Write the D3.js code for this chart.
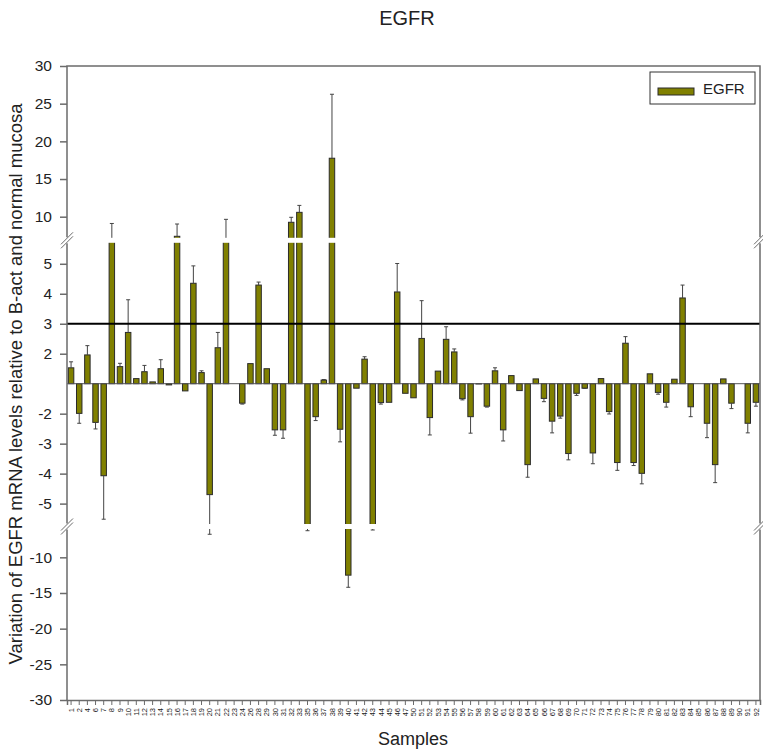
<!DOCTYPE html>
<html>
<head>
<meta charset="utf-8">
<script src="https://cdn.jsdelivr.net/npm/d3@7"></script>
<style>
  body { margin: 0; background: #fff; }
  text { font-family: Arial, "Liberation Sans", sans-serif; fill: #222; }
</style>
</head>
<body>
<svg id="chart"></svg>
<script>
// sample labels along the x axis
var samples = [1, 2, 4, 6, 7, 8, 9, 10, 11, 12, 13, 14, 15, 16, 17, 18, 19, 20, 21, 22,
  23, 24, 26, 28, 29, 30, 31, 32, 33, 35, 36, 37, 38, 39, 40, 41, 42, 43, 44, 45,
  46, 47, 50, 51, 52, 53, 54, 55, 56, 57, 58, 59, 60, 61, 62, 63, 64, 65, 66,
  67, 68, 69, 70, 71, 72, 73, 74, 75, 76, 77, 78, 79, 80, 81, 82, 83, 84, 85, 86,
  87, 88, 89, 90, 91, 92];

// fold change (values between -1 and 1 collapse on the baseline)
var egfr = [1.53, -1.99, 1.96, -2.29, -4.07, 6.5, 1.57, 2.71, 1.17, 1.40,
  1.06, 1.50, -1.04, 7.4, -1.24, 4.35, 1.37, -4.70, 2.20, 6.5,
  0, -1.65, 1.67, 4.29, 1.50, -2.54, -2.54, 9.26, 10.58, -5.85,
  -2.10, 1.12, 17.76, -2.52, -12.5, -1.15, 1.82, -5.85, -1.63, -1.62,
  4.06, -1.32, -1.47, 2.51, -2.13, 1.42, 2.48, 2.06, -1.50, -2.10,
  -1.01, -1.75, 1.43, -2.54, 1.27, -1.23, -3.70, 1.16, -1.49, -2.25,
  -2.08, -3.33, -1.32, -1.15, -3.31, 1.17, -1.93, -3.63, 2.35, -3.63,
  -3.99, 1.33, -1.29, -1.62, 1.15, 3.86, -1.77, 0, -2.32, -3.70,
  1.16, -1.65, 0, -2.32, -1.62];

// standard deviation
var egfrErr = [0.20, 0.33, 0.31, 0.22, 1.45, 2.6, 0.11, 1.09, 0, 0.21,
  0, 0.30, 0, 1.63, 0, 0.58, 0.06, 2.07, 0.51, 3.15,
  0, 0.03, 0, 0.10, 0, 0.18, 0.28, 0.66, 0.92, 0.42,
  0.13, 0.02, 8.49, 0.42, 1.7, 0, 0.08, 0.32, 0.05, 0,
  0.95, 0, 0, 1.26, 0.58, 0, 0.42, 0.10, 0.04, 0.55,
  0, 0.03, 0.10, 0.37, 0, 0, 0.42, 0, 0.11, 0.39,
  0.07, 0.21, 0.07, 0.01, 0.36, 0, 0.08, 0.26, 0.22, 0.10,
  0.35, 0, 0.06, 0.16, 0, 0.43, 0.33, 0, 0.48, 0.60,
  0, 0.18, 0, 0.32, 0.13];

var topTicks = [10, 15, 20, 25, 30];
var midTicks = [5, 4, 3, 2, -2, -3, -4, -5];
var botTicks = [-10, -15, -20, -25, -30];
var cutoff = 3;

var width = 763, height = 751;
var plotLeft = 67, plotRight = 760, plotTop = 66, plotBottom = 700;

// segment boundaries (axis breaks)
var brk = { topLow: 7.2, midHigh: 5.7, midLow: -5.68, botHigh: -6.03 };
var gap = 5;
var topBottomY = 237.8, midBottomY = 524;
var baseY = 383.7;

var svg = d3.select("#chart")
  .attr("width", width)
  .attr("height", height);

var x = d3.scaleBand()
  .domain(samples)
  .range([plotLeft, plotRight])
  .paddingInner(0.33)
  .paddingOuter(0.165);

var y = d3.scaleLinear()
  .domain([-30, brk.botHigh, brk.midLow, -1, 1, brk.midHigh, brk.topLow, 30])
  .range([plotBottom, midBottomY + gap, midBottomY, baseY, baseY, topBottomY + gap, topBottomY, plotTop]);

var data = samples.map(function(s, i) {
  return { s: s, v: egfr[i], e: egfrErr[i] };
});

// bars
svg.append("g").selectAll("rect")
  .data(data.filter(function(d) { return Math.abs(d.v) >= 1; }))
  .enter().append("rect")
  .attr("x", function(d) { return x(d.s); })
  .attr("width", x.bandwidth())
  .attr("y", function(d) { return Math.min(y(d.v), baseY); })
  .attr("height", function(d) { return Math.abs(y(d.v) - baseY); })
  .attr("fill", "#808000")
  .attr("stroke", "#2a2a2a")
  .attr("stroke-width", 1);

// error bars (one-sided, away from baseline)
function errEnd(d) { return y(d.v + (d.v > 0 ? d.e : -d.e)); }
function cx(d) { return x(d.s) + x.bandwidth() / 2; }

var err = svg.append("g")
  .attr("stroke", "#444")
  .attr("stroke-width", 1)
  .selectAll("g")
  .data(data.filter(function(d) { return d.e > 0; }))
  .enter().append("g");

err.append("line")
  .attr("x1", cx).attr("x2", cx)
  .attr("y1", function(d) { return y(d.v); })
  .attr("y2", errEnd);

err.append("line")
  .attr("x1", function(d) { return cx(d) - 2; })
  .attr("x2", function(d) { return cx(d) + 2; })
  .attr("y1", errEnd)
  .attr("y2", errEnd);

// white gaps for the axis breaks
[topBottomY, midBottomY].forEach(function(g) {
  svg.append("rect")
    .attr("x", plotLeft + 1).attr("width", plotRight - plotLeft - 2)
    .attr("y", g).attr("height", gap)
    .attr("fill", "#fff");
});

// baseline
svg.append("line")
  .attr("x1", plotLeft).attr("x2", plotRight)
  .attr("y1", baseY).attr("y2", baseY)
  .attr("stroke", "#555").attr("stroke-width", 1);

// threshold line at 3
svg.append("line")
  .attr("x1", plotLeft).attr("x2", plotRight)
  .attr("y1", y(cutoff)).attr("y2", y(cutoff))
  .attr("stroke", "#000").attr("stroke-width", 2);

// frame
svg.append("path")
  .attr("d", "M" + plotLeft + "," + plotBottom + "V" + plotTop + "H" + plotRight + "V" + plotBottom)
  .attr("stroke", "#6b6b6b").attr("stroke-width", 1.5).attr("fill", "none");

// y axis, one per segment
function yAxis(ticks) {
  var g = svg.append("g")
    .attr("transform", "translate(" + plotLeft + ",0)")
    .call(d3.axisLeft(y).tickValues(ticks).tickSize(7).tickPadding(8)
      .tickFormat(function(d) { return String(d); }));
  g.select(".domain").remove();
  g.selectAll(".tick line").attr("stroke", "#6b6b6b").attr("stroke-width", 1.5);
  g.selectAll(".tick text").style("font-size", "15.5px").attr("fill", "#222");
}
yAxis(topTicks);
yAxis(midTicks);
yAxis(botTicks);

// break marks on left and right axes
[plotLeft, plotRight].forEach(function(ax) {
  [topBottomY + gap / 2, midBottomY + gap / 2].forEach(function(cy) {
    svg.append("rect")
      .attr("x", ax - 2).attr("width", 4)
      .attr("y", cy - 3).attr("height", 6)
      .attr("fill", "#fff");
    [-2, 2].forEach(function(o) {
      svg.append("line")
        .attr("x1", ax - 6).attr("y1", cy + 6 + o)
        .attr("x2", ax + 6).attr("y2", cy - 6 + o)
        .attr("stroke", "#6b6b6b").attr("stroke-width", 1);
    });
  });
});

// x axis
var xg = svg.append("g")
  .attr("transform", "translate(0," + plotBottom + ")")
  .call(d3.axisBottom(x).tickSize(5).tickPadding(2));
xg.select(".domain").attr("stroke", "#6b6b6b").attr("stroke-width", 1.5);
xg.selectAll(".tick line").attr("stroke", "#6b6b6b");
xg.selectAll(".tick text")
  .style("font-size", "7.5px")
  .attr("fill", "#333")
  .attr("text-anchor", "end")
  .attr("dy", "0.35em")
  .attr("transform", "translate(0,4) rotate(-90)")
  .attr("x", -4).attr("y", 0);

// legend
var lg = svg.append("g");
lg.append("rect")
  .attr("x", 650).attr("y", 72).attr("width", 105).attr("height", 32)
  .attr("fill", "#fff").attr("stroke", "#333").attr("stroke-width", 1);
lg.append("rect")
  .attr("x", 658).attr("y", 88).attr("width", 36).attr("height", 7)
  .attr("fill", "#808000").attr("stroke", "#2a2a2a");
lg.append("text")
  .attr("x", 703).attr("y", 94)
  .style("font-size", "15px")
  .text("EGFR");

// titles
svg.append("text")
  .attr("x", 407).attr("y", 25)
  .attr("text-anchor", "middle")
  .style("font-size", "20px")
  .text("EGFR");

svg.append("text")
  .attr("x", 413).attr("y", 745)
  .attr("text-anchor", "middle")
  .style("font-size", "18px")
  .text("Samples");

svg.append("text")
  .attr("transform", "translate(22," + 384 + ") rotate(-90)")
  .attr("text-anchor", "middle")
  .style("font-size", "18.5px")
  .text("Variation of EGFR mRNA levels relative to B-act and normal mucosa");
</script>
</body>
</html>
